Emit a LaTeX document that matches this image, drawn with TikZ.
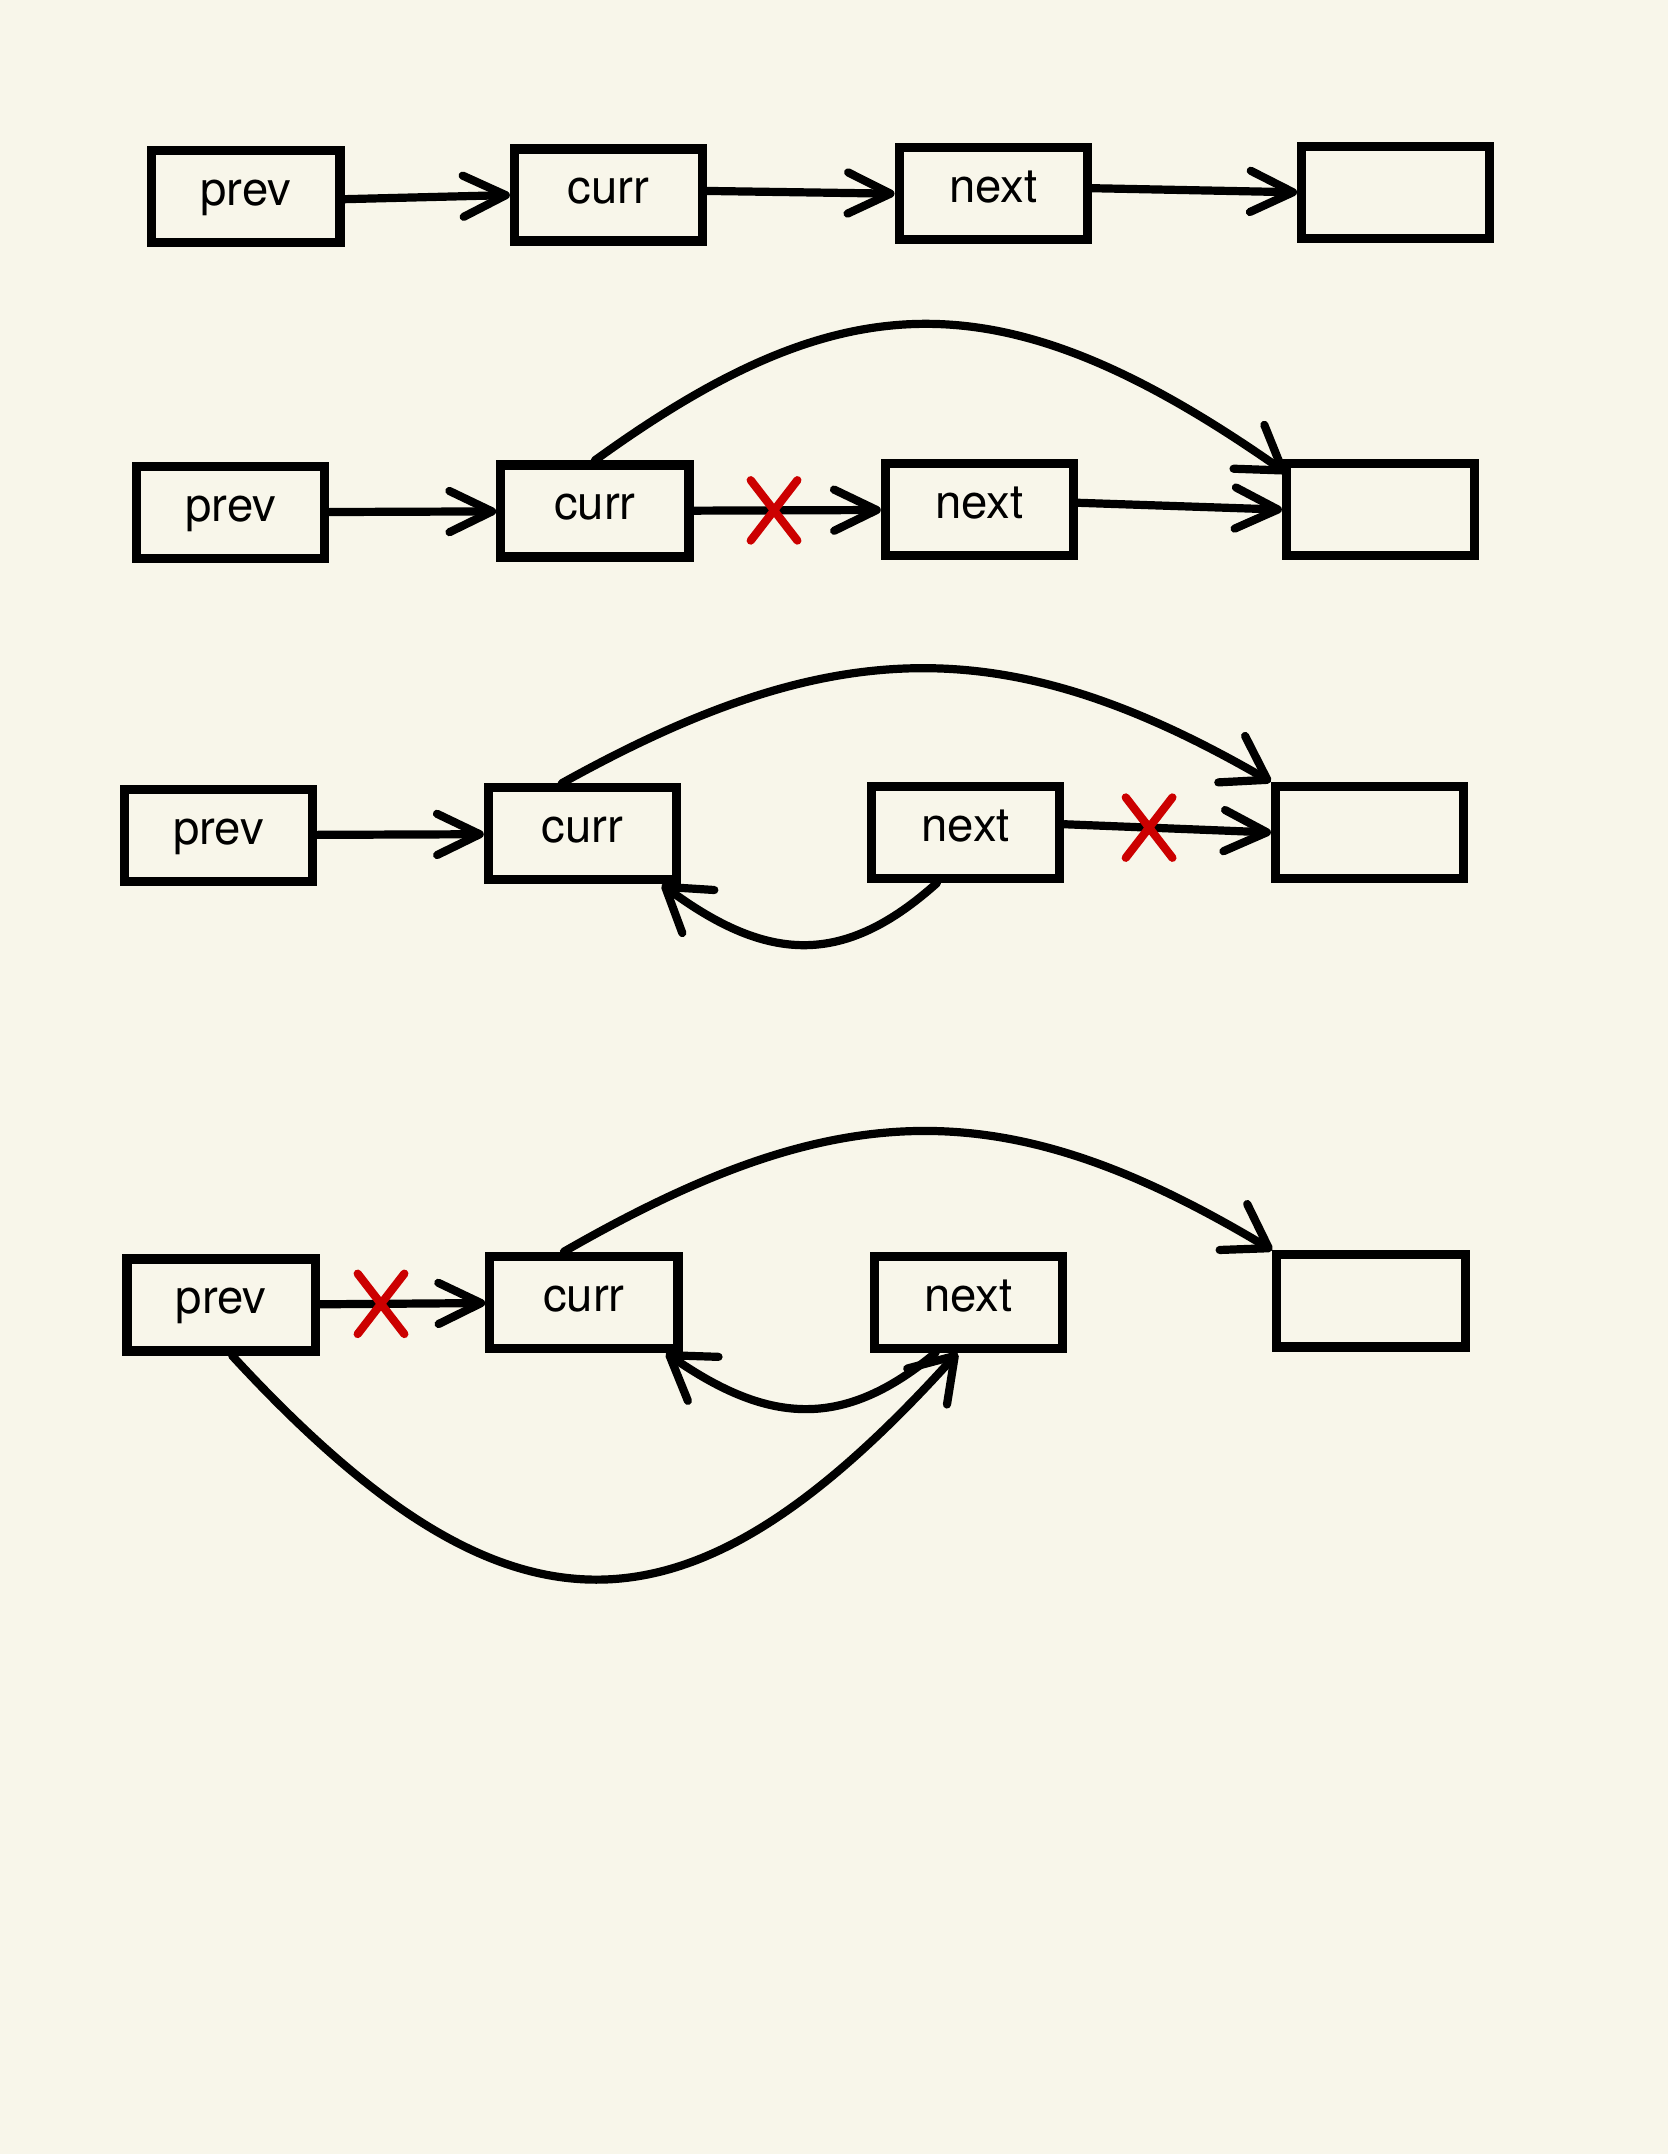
\documentclass[tikz,border=0pt]{standalone}
\usepackage{fontspec}
\setmainfont{TeX Gyre Heros}
\usetikzlibrary{arrows.meta,shapes.misc}

\definecolor{paper}{HTML}{F8F6EA}
\definecolor{crossred}{HTML}{CC0000}

\tikzset{
  box/.style={draw, line width=1.9pt, minimum width=1.37cm, minimum height=0.67cm,
    inner sep=0pt, text height=1.5ex, text depth=.8ex, font=\fontsize{9.8}{12}\selectfont},
  link/.style={line width=1.7pt, line cap=round, -{Straight Barb[round,length=3.1mm,width=3mm]}},
  bent/.style={line width=1.7pt, line cap=round, -{Straight Barb[round,length=3mm,width=3.9mm]}},
  cut/.style={cross out, draw=crossred, line width=1.7pt, line cap=round,
    minimum width=0.28cm, minimum height=0.38cm, inner sep=0pt}
}

\begin{document}
\begin{tikzpicture}
  \fill[paper] (0,0) rectangle (12.14,-15.68);
  \useasboundingbox (0,0) rectangle (12.14,-15.68);

  % Step 1: the list
  \node[box] (prev1) at (1.79,-1.43) {prev};
  \node[box] (curr1) at (4.43,-1.42) {curr};
  \node[box] (next1) at (7.23,-1.41) {next};
  \node[box] (null1) at (10.16,-1.40) {};

  \draw[link] ([yshift=-0.02cm]prev1.east) -- (curr1.west);
  \draw[link] ([yshift=0.03cm]curr1.east) -- (next1.west);
  \draw[link] ([yshift=0.04cm]next1.east) -- (null1.west);

  % Step 2: curr skips next
  \node[box] (prev2) at (1.68,-3.73) {prev};
  \node[box] (curr2) at (4.33,-3.72) {curr};
  \node[box] (next2) at (7.13,-3.71) {next};
  \node[box] (null2) at (10.05,-3.71) {};

  \draw[link] (prev2) -- (curr2);
  \draw[link] (curr2) -- node[cut, pos=0.43] {} (next2);
  \draw[link] ([yshift=0.05cm]next2.east) -- (null2.west);
  \draw[bent] (curr2.north) .. controls +(1.81,1.31) and +(-2.07,1.45) .. ([shift={(0.03,-0.1)}]null2.north west);

  % Step 3: next points back to curr
  \node[box] (prev3) at (1.59,-6.08) {prev};
  \node[box] (curr3) at (4.24,-6.07) {curr};
  \node[box] (next3) at (7.03,-6.06) {next};
  \node[box] (null3) at (9.97,-6.06) {};

  \draw[link] (prev3) -- (curr3);
  \draw[link] ([yshift=0.06cm]next3.east) -- node[cut, pos=0.41] {} (null3.west);
  \draw[bent] ([xshift=-1.5mm]curr3.north) .. controls +(1.98,1.10) and +(-1.92,1.11) .. (null3.north west);
  \draw[bent] ([xshift=-2.1mm]next3.south) .. controls +(-0.67,-0.60) and +(0.78,-0.58) .. ([xshift=-1.4mm]curr3.south east);

  % Step 4: prev points to next
  \node[box] (prev4) at (1.61,-9.50) {prev};
  \node[box] (curr4) at (4.25,-9.48) {curr};
  \node[box] (next4) at (7.05,-9.48) {next};
  \node[box] (null4) at (9.98,-9.47) {};

  \draw[link] (prev4) -- node[cut, pos=0.37] {} (curr4);
  \draw[bent] ([xshift=-1.45mm]curr4.north) .. controls +(2.0,1.15) and +(-1.95,1.17) .. (null4.north west);
  \draw[bent] ([xshift=-2.4mm]next4.south) .. controls +(-0.66,-0.55) and +(0.76,-0.53) .. ([xshift=-1.2mm]curr4.south east);
  \draw[bent] ([xshift=0.8mm]prev4.south) .. controls +(2.01,-2.18) and +(-1.97,-2.18) .. ([xshift=-0.8mm]next4.south);
\end{tikzpicture}
\end{document}
